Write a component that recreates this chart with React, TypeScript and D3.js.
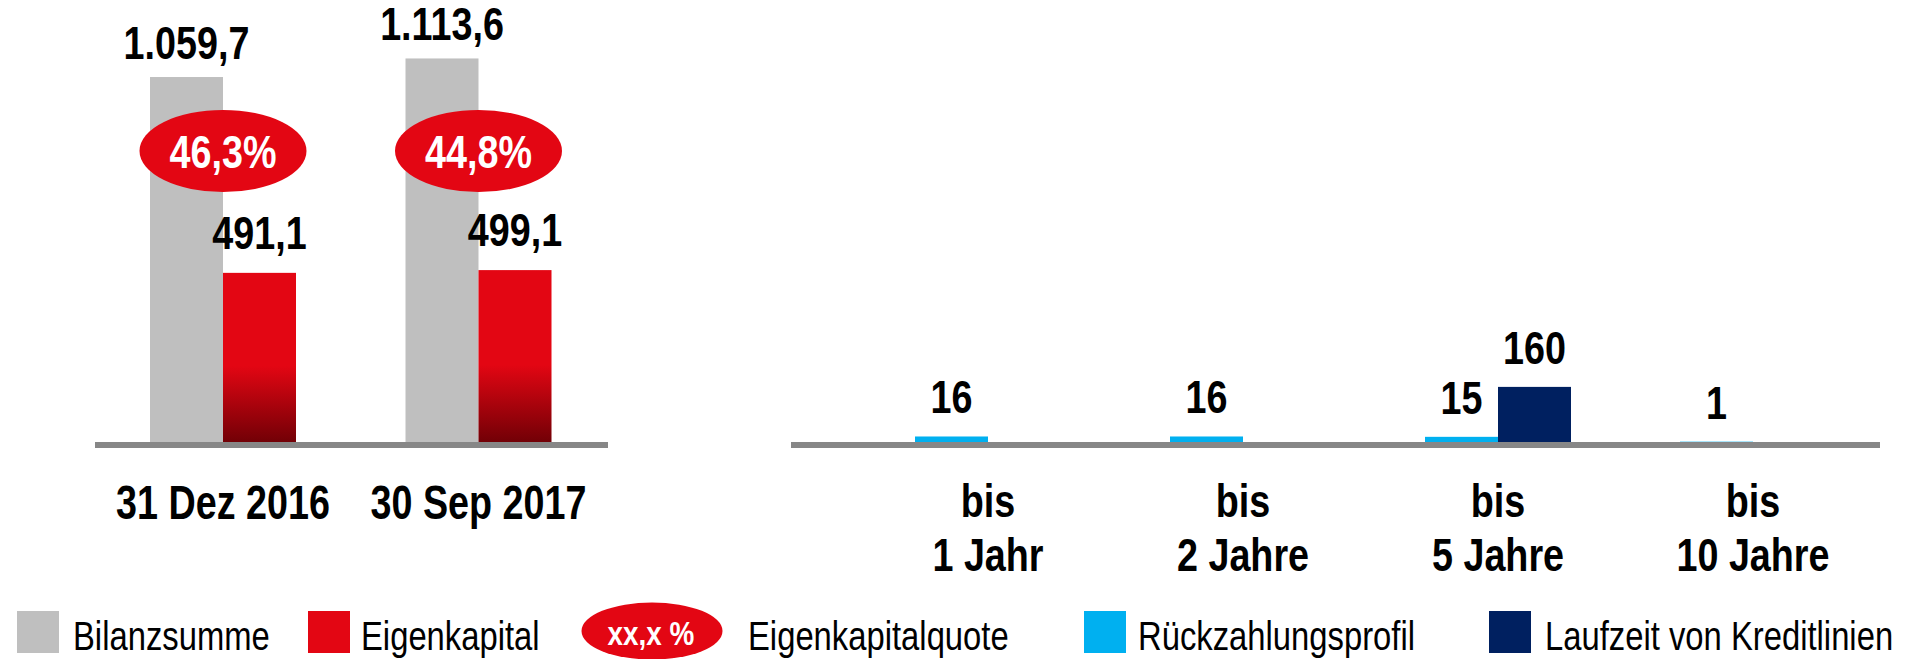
import React from "react";
import * as d3 from "d3";

// ---- data ----
const periods = ["31 Dez 2016", "30 Sep 2017"];
const bilanzsumme = [1059.7, 1113.6];
const eigenkapital = [491.1, 499.1];
const eigenkapitalquote = [46.3, 44.8];

const maturityTop = ["bis", "bis", "bis", "bis"];
const maturityBottom = ["1 Jahr", "2 Jahre", "5 Jahre", "10 Jahre"];
const rueckzahlungsprofil = [16, 16, 15, 1];
const kreditlinien: (number | null)[] = [null, null, 160, null];

const legendItems = ["Bilanzsumme", "Eigenkapital", "Eigenkapitalquote", "Rückzahlungsprofil", "Laufzeit von Kreditlinien"];

// ---- styles ----
const W = 1921;
const H = 659;
const FONT = "'Liberation Sans', Arial, sans-serif";
const NARROW = 0.82;
const C_GRAY = "#BFBFBF";
const C_RED = "#E30613";
const C_RED_DARK = "#720006";
const C_LIGHT = "#00B0F0";
const C_NAVY = "#002060";
const C_AXIS = "#878787";

const de = d3.formatLocale({ decimal: ",", thousands: ".", grouping: [3], currency: ["", " €"] });
const fmt1 = de.format(",.1f");
const fmtInt = de.format("d");

const y = d3.scaleLinear().domain([0, 1200]).range([442, 28.7]);
const xLeft = d3.scalePoint<string>().domain(periods).range([223, 478.5]);
const xRight = d3.scalePoint<string>().domain(maturityBottom).range([988, 1753]);
const BW = 73;

function NText(props: {
  x: number;
  y: number;
  children: React.ReactNode;
  size: number;
  bold?: boolean;
  fill?: string;
  anchor?: "start" | "middle" | "end";
  sy?: number;
}) {
  const { x, y: yy, children, size, bold, fill = "#000", anchor = "middle", sy = 1 } = props;
  return (
    <text
      transform={`translate(${x},${yy}) scale(${NARROW},${sy})`}
      textAnchor={anchor}
      fontFamily={FONT}
      fontSize={size}
      fontWeight={bold ? "bold" : "normal"}
      fill={fill}
    >
      {children}
    </text>
  );
}

export default function App() {
  const y0 = y(0);
  return (
    <svg
      width={W}
      height={H}
      viewBox={`0 0 ${W} ${H}`}
      style={{ position: "absolute", left: 0, top: 0, background: "#fff" }}
    >
      <defs>
        <linearGradient id="redGrad" x1="0" y1="0" x2="0" y2="1">
          <stop offset="0" stopColor={C_RED} />
          <stop offset="0.55" stopColor={C_RED} />
          <stop offset="1" stopColor={C_RED_DARK} />
        </linearGradient>
      </defs>

      {/* ---- left chart ---- */}
      {periods.map((p, i) => {
        const cx = xLeft(p)!;
        return (
          <g key={p}>
            <rect x={cx - BW} y={y(bilanzsumme[i])} width={BW} height={y0 - y(bilanzsumme[i])} fill={C_GRAY} />
            <rect x={cx} y={y(eigenkapital[i])} width={BW} height={y0 - y(eigenkapital[i])} fill="url(#redGrad)" />
            <NText x={cx - BW / 2} y={y(bilanzsumme[i]) - 18} size={46} bold>
              {fmt1(bilanzsumme[i])}
            </NText>
            <NText x={cx + BW / 2} y={y(eigenkapital[i]) - 24} size={46} bold>
              {fmt1(eigenkapital[i])}
            </NText>
            <ellipse cx={cx} cy={151} rx={83.5} ry={41} fill={C_RED} />
            <NText x={cx} y={168} size={46} bold fill="#fff">
              {fmt1(eigenkapitalquote[i]) + "%"}
            </NText>
            <NText x={cx} y={519} size={46} bold sy={1.05}>
              {p}
            </NText>
          </g>
        );
      })}
      <rect x={95} y={442} width={608 - 95} height={6} fill={C_AXIS} />

      {/* ---- right chart ---- */}
      {maturityBottom.map((m, i) => {
        const cx = xRight(m)!;
        const r = rueckzahlungsprofil[i];
        const k = kreditlinien[i];
        return (
          <g key={m}>
            <rect x={cx - BW} y={y(r)} width={BW} height={y0 - y(r)} fill={C_LIGHT} />
            <NText x={cx - BW / 2} y={y(r) - 23} size={46} bold>
              {fmtInt(r)}
            </NText>
            {k != null && (
              <>
                <rect x={cx} y={y(k)} width={BW} height={y0 - y(k)} fill={C_NAVY} />
                <NText x={cx + BW / 2} y={y(k) - 23} size={46} bold>
                  {fmtInt(k)}
                </NText>
              </>
            )}
            <NText x={cx} y={517} size={46} bold>
              {maturityTop[i]}
            </NText>
            <NText x={cx} y={571} size={46} bold>
              {m}
            </NText>
          </g>
        );
      })}
      <rect x={791} y={442} width={1880 - 791} height={6} fill={C_AXIS} />

      {/* ---- legend ---- */}
      <rect x={17} y={611} width={42} height={42} fill={C_GRAY} />
      <NText x={73} y={650} size={40} anchor="start">{legendItems[0]}</NText>
      <rect x={308} y={611} width={42} height={42} fill={C_RED} />
      <NText x={361} y={650} size={40} anchor="start">{legendItems[1]}</NText>
      <ellipse cx={652} cy={631} rx={70.5} ry={28.5} fill={C_RED} />
      <NText x={651} y={645} size={34} bold fill="#fff">xx,x %</NText>
      <NText x={748} y={650} size={40} anchor="start">{legendItems[2]}</NText>
      <rect x={1084} y={611} width={42} height={42} fill={C_LIGHT} />
      <NText x={1138} y={650} size={40} anchor="start">{legendItems[3]}</NText>
      <rect x={1489} y={611} width={42} height={42} fill={C_NAVY} />
      <NText x={1545} y={650} size={40} anchor="start">{legendItems[4]}</NText>
    </svg>
  );
}
